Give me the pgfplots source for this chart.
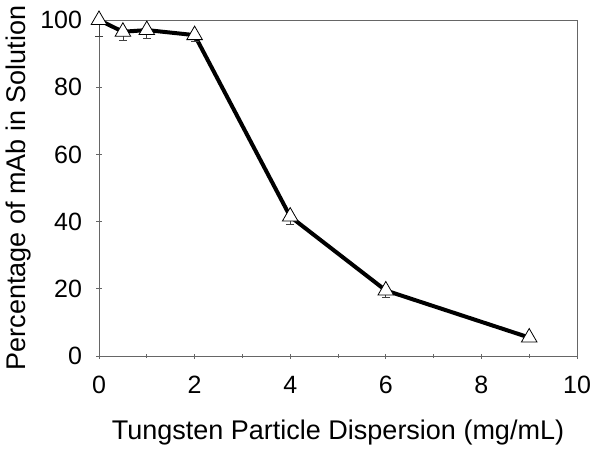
\documentclass[border=0pt]{standalone}
\usepackage{pgfplots}
\pgfplotsset{compat=1.18}
\usepackage{fontspec}
\setmainfont{Liberation Sans}
\begin{document}
\begin{tikzpicture}[x=1pt,y=1pt]
\useasboundingbox (0,0) rectangle (602,456);
\begin{axis}[
  at={(99pt,100pt)}, anchor=south west,
  scale only axis, width=478pt, height=336pt,
  xmin=0, xmax=10, ymin=0, ymax=100,
  xtick={0,2,4,6,8,10}, minor xtick={1,3,5,7,9},
  ytick={0,20,40,60,80,100},
  axis line style={draw=gray!80!black, line width=0.8pt},
  every tick/.style={gray!80!black, line width=0.8pt},
  major tick length=5pt, minor tick length=4pt,
  xtick pos=bottom, ytick pos=left,
  tick align=center,
  /pgf/number format/assume math mode=true,
  tick label style={font=\fontsize{25}{29}\selectfont, black},
  xlabel={Tungsten Particle Dispersion (mg/mL)},
  ylabel={Percentage of mAb in Solution},
  xticklabel style={yshift=-14pt},
  yticklabel style={xshift=-11pt},
  xlabel style={font=\fontsize{27}{31}\selectfont, at={(axis description cs:0.5,0)}, anchor=center, yshift=-77pt},
  ylabel style={font=\fontsize{27}{31}\selectfont, at={(axis description cs:0,0.5)}, anchor=center, yshift=80pt},
  clip=false,
]
\addplot[black, line width=4pt, mark=triangle*,
  mark options={fill=white, draw=black, line width=0.8pt, mark size=9pt},
  error bars/.cd, y dir=minus, y explicit,
  error bar style={line width=0.8pt, draw=gray!50!black},
  error mark options={rotate=90, mark size=4pt, line width=0.8pt, draw=gray!50!black}]
  coordinates {
  (0,100) +- (0,5)
  (0.5,96.5) +- (0,2.5)
  (1,97) +- (0,2.5)
  (2,95.5) +- (0,2)
  (4,41.5) +- (0,2.2)
  (6,19.5) +- (0,2.2)
  (9,5.5) +- (0,1)
  };
\end{axis}
\end{tikzpicture}
\end{document}
